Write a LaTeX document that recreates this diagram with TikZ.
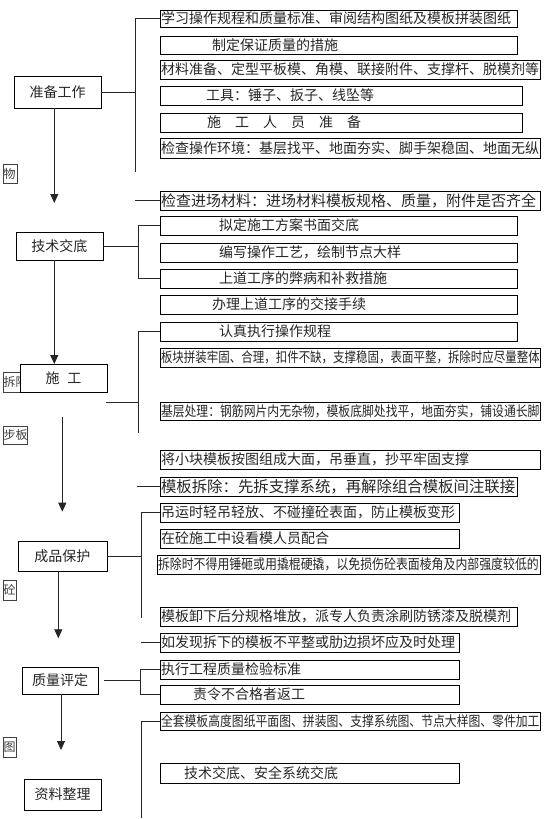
\documentclass[tikz,border=0pt]{standalone}
\usepackage{fontspec}
\usepackage{graphicx}
\newfontfamily\cjk{Noto Sans CJK SC}
\usetikzlibrary{arrows.meta}
\newcommand\rbx[7]{%
  \pgfmathsetmacro\bw{#4-#2}%
  \pgfmathsetmacro\bh{#5-#3}%
  \node[rbox,minimum width=\bw pt,minimum height=\bh pt] (#1) at (#2,#3) {\makebox[\bw pt][l]{\hspace*{#6pt}#7}};}
\newcommand\mbx[6]{%
  \pgfmathsetmacro\bw{#4-#2}%
  \pgfmathsetmacro\bh{#5-#3}%
  \node[mbox,minimum width=\bw pt,minimum height=\bh pt] (#1) at (#2,#3) {\makebox[\bw pt][c]{#6}};}
\newcommand\fbx[6]{%
  \pgfmathsetmacro\bw{#4-#2}%
  \pgfmathsetmacro\bh{#5-#3}%
  \node[fragbox,minimum width=\bw pt,minimum height=\bh pt] (#1) at (#2,#3) {\makebox[\bw pt][l]{\hspace*{0.6pt}#6}};}
\begin{document}
\begin{tikzpicture}[x=1pt,y=-1pt,
  ln/.style={draw=black!85,line width=0.8pt},
  arr/.style={ln,-{Triangle[width=8pt,length=9pt]}},
  rbox/.style={draw=black,line width=0.8pt,rectangle,inner sep=0pt,outer sep=0pt,anchor=north west,font=\cjk\fontsize{14}{16}\selectfont,text=black!85},
  mbox/.style={rbox,fill=white},
  fragbox/.style={draw=black!75,line width=0.6pt,rectangle,inner sep=0pt,outer sep=0pt,anchor=north west,font=\cjk\fontsize{12}{13}\selectfont,text=black!75}]
\useasboundingbox (0,0) rectangle (554,819);
\fill[white] (0,0) rectangle (554,819);

% right column boxes
\rbx{b1}{160}{10}{517}{27}{1}{学习操作规程和质量标准、审阅结构图纸及模板拼装图纸}
\rbx{b2}{160}{36}{517}{54}{52}{制定保证质量的措施}
\rbx{b3}{160}{60}{540}{79}{1}{材料准备、定型平板模、角模、联接附件、支撑杆、脱模剂等}
\rbx{b4}{160}{86}{522}{105}{46}{工具：锤子、扳子、线坠等}
\rbx{b5}{160}{113}{522}{132}{47}{施\hspace{14pt}工\hspace{14pt}人\hspace{14pt}员\hspace{14pt}准\hspace{14pt}备}
\rbx{b6}{160}{138}{540}{158}{1}{检查操作环境：基层找平、地面夯实、脚手架稳固、地面无纵}
\rbx{b7}{160}{191}{540}{210}{1}{\fontsize{15}{16}\selectfont 检查进场材料：进场材料模板规格、质量，附件是否齐全}
\rbx{b8}{160}{216}{517}{235}{59}{拟定施工方案书面交底}
\rbx{b9}{160}{243}{517}{262}{59}{编写操作工艺，绘制节点大样}
\rbx{b10}{160}{269}{517}{288}{59}{上道工序的弊病和补救措施}
\rbx{b11}{160}{295}{517}{314}{52}{办理上道工序的交接手续}
\rbx{b12}{160}{322}{517}{341}{59}{认真执行操作规程}
\rbx{b13}{160}{348}{540}{367}{1}{\scalebox{0.82}[1]{板块拼装牢固、合理，扣件不缺，支撑稳固，表面平整，拆除时应尽量整体}}
\rbx{b14}{160}{402}{540}{420}{1}{\scalebox{0.845}[1]{基层处理：钢筋网片内无杂物，模板底脚处找平，地面夯实，铺设通长脚}}
\rbx{b15}{160}{450}{540}{469}{1}{将小块模板按图组成大面，吊垂直，抄平牢固支撑}
\rbx{b16}{160}{477}{517}{496}{1}{\fontsize{15.4}{16}\selectfont 模板拆除：先拆支撑系统，再解除组合模板间注联接}
\rbx{b17}{160}{503}{459}{522}{1}{吊运时轻吊轻放、不碰撞砼表面，防止模板变形}
\rbx{b18}{160}{529}{459}{548}{1}{在砼施工中设看模人员配合}
\rbx{b19}{157}{555}{540}{574}{1}{\scalebox{0.85}[1]{拆除时不得用锤砸或用撬棍硬撬，以免损伤砼表面棱角及内部强度较低的}}
\rbx{b20}{160}{607}{517}{626}{1}{模板卸下后分规格堆放，派专人负责涂刷防锈漆及脱模剂}
\rbx{b21}{160}{633}{459}{652}{1}{如发现拆下的模板不平整或肋边损坏应及时处理}
\rbx{b22}{160}{660}{459}{679}{1}{执行工程质量检验标准}
\rbx{b23}{160}{685}{459}{704}{33}{责令不合格者返工}
\rbx{b24}{160}{712}{540}{730}{1}{\scalebox{0.845}[1]{全套模板高度图纸平面图、拼装图、支撑系统图、节点大样图、零件加工}}
\rbx{b25}{160}{763}{459}{783}{24}{技术交底、安全系统交底}

% fragments at the left edge
\fbx{f1}{3}{164}{17}{183}{物}
\fbx{f2}{3}{372}{27}{392}{拆除}
\fbx{f3}{3}{426}{27}{444}{步板}
\fbx{f4}{3}{580}{16}{600}{砼}
\fbx{f5}{3}{737}{16}{757}{图}

% main stage boxes
\mbx{A}{14}{76}{101}{108}{准备工作}
\mbx{B}{16}{232}{103}{260}{技术交底}
\mbx{C}{20}{364}{107}{392}{施\hspace{8pt}工}
\mbx{D}{18}{541}{107}{571}{成品保护}
\mbx{E}{22}{667}{98}{694}{质量评定}
\mbx{F}{24}{779}{101}{810}{资料整理}

% brackets
\coordinate (a0) at (135,172);
\draw[ln] (b1.west) -| (a0);
\draw[ln] (A.east) -- (A.east -| a0);
\coordinate (a7) at (135,0);
\draw[ln] (b7.west) -- (b7.west -| a7);

\coordinate (bb) at (138,0);
\draw[ln] (b8.west) -| (bb |- b10.west) -- (b10.west);
\draw[ln] (B.east) -- (B.east -| bb);

\coordinate (cb) at (138.3,433);
\draw[ln] (b12.west) -| (cb);
\coordinate (cs) at (106,402.7);
\draw[ln] (cs) -- (cs -| cb);

\coordinate (a16) at (137,0);
\draw[ln] (b16.west) -- (b16.west -| a16);

\coordinate (db) at (141,618);
\draw[ln] (b17.west) -| (db);
\draw[ln] (D.east) -- (D.east -| db);
\draw[ln] (b21.west) -- (b21.west -| db);

\coordinate (eb) at (140,0);
\draw[ln] (b22.west) -| (eb |- b23.west) -- (b23.west);
\coordinate (es) at (104,0);
\draw[ln] (E.east -| es) -- (E.east -| eb);

\coordinate (fb) at (141.7,818);
\draw[ln] (b24.west) -| (fb);

% flow arrows
\coordinate (t1) at (54.3,203);
\draw[arr] (A.south -| t1) -- (t1);
\coordinate (x2) at (54.3,0);
\draw[arr] (B.south -| x2) -- (C.north -| x2);
\coordinate (s3) at (62.3,416.7);
\coordinate (t3) at (62.3,511.7);
\draw[arr] (s3) -- (t3);
\coordinate (t4) at (58.3,638.3);
\draw[arr] (D.south -| t4) -- (t4);
\coordinate (t5) at (61,750);
\draw[arr] (E.south -| t5) -- (t5);
\end{tikzpicture}
\end{document}
